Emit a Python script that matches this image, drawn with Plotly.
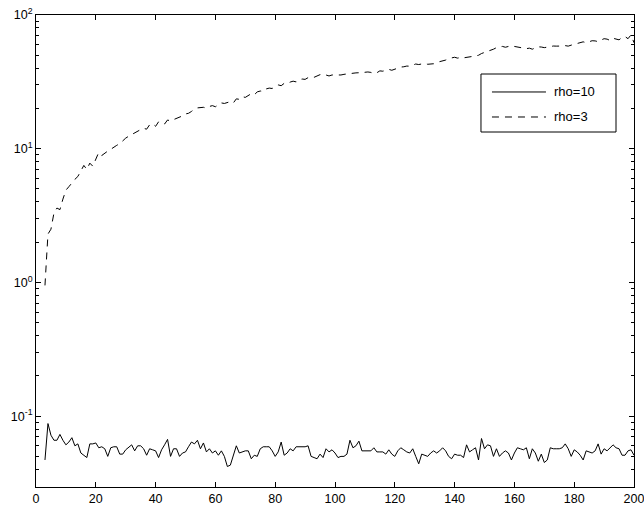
import plotly.graph_objects as go

x_vals = list(range(3, 201))

rho10 = [
    0.047, 0.088, 0.072, 0.066, 0.066, 0.073, 0.066, 0.061, 0.064, 0.069,
    0.060, 0.062, 0.053, 0.051, 0.049, 0.062, 0.062, 0.063, 0.058, 0.059,
    0.057, 0.050, 0.058, 0.059, 0.059, 0.052, 0.052, 0.056, 0.058, 0.061,
    0.055, 0.060, 0.060, 0.057, 0.051, 0.057, 0.056, 0.055, 0.049, 0.056,
    0.061, 0.067, 0.050, 0.057, 0.057, 0.050, 0.053, 0.054, 0.059, 0.064,
    0.062, 0.066, 0.057, 0.063, 0.054, 0.057, 0.053, 0.055, 0.051, 0.055,
    0.050, 0.042, 0.043, 0.051, 0.060, 0.053, 0.054, 0.055, 0.055, 0.048,
    0.051, 0.050, 0.057, 0.059, 0.059, 0.059, 0.055, 0.050, 0.054, 0.064,
    0.051, 0.053, 0.057, 0.055, 0.059, 0.059, 0.059, 0.059, 0.060, 0.050,
    0.049, 0.048, 0.052, 0.049, 0.057, 0.054, 0.056, 0.053, 0.049, 0.050,
    0.050, 0.052, 0.066, 0.058, 0.060, 0.065, 0.055, 0.055, 0.055, 0.055,
    0.058, 0.054, 0.054, 0.054, 0.052, 0.056, 0.052, 0.050, 0.055, 0.058,
    0.056, 0.054, 0.053, 0.057, 0.050, 0.044, 0.052, 0.051, 0.050, 0.053,
    0.055, 0.053, 0.055, 0.058, 0.055, 0.050, 0.048, 0.052, 0.051, 0.051,
    0.049, 0.061, 0.054, 0.056, 0.058, 0.047, 0.068, 0.057, 0.061, 0.060,
    0.050, 0.057, 0.050, 0.053, 0.055, 0.053, 0.047, 0.053, 0.058, 0.057,
    0.056, 0.058, 0.048, 0.057, 0.053, 0.046, 0.052, 0.045, 0.047, 0.058,
    0.057, 0.057, 0.057, 0.058, 0.062, 0.057, 0.050, 0.056, 0.054, 0.051,
    0.047, 0.055, 0.054, 0.053, 0.055, 0.062, 0.052, 0.057, 0.055, 0.058,
    0.061, 0.058, 0.057, 0.051, 0.051, 0.055, 0.056, 0.051,
]

rho3 = [
    0.95, 2.3, 2.5, 3.3, 3.6, 3.5, 4.2, 4.9, 5.2, 5.6,
    5.9, 6.2, 6.9, 7.5, 7.0, 7.8, 7.4, 8.3, 9.4, 8.9,
    9.3, 9.6, 9.9, 10.3, 10.6, 10.9, 11.5, 12.0, 12.4, 12.8,
    13.2, 13.6, 13.9, 14.2, 14.0, 15.1, 15.4, 14.7, 15.9, 15.8,
    15.3, 16.4, 16.1, 16.5, 16.8, 17.2, 17.6, 18.2, 18.4, 19.0,
    19.8, 20.2, 20.3, 20.4, 20.1, 20.7, 21.0, 20.6, 21.3, 22.0,
    21.8, 22.3, 22.5, 22.0, 23.6, 23.4, 24.5, 24.2, 25.0, 25.8,
    25.3, 26.6, 27.0, 26.8, 28.0, 28.4, 28.2, 29.5, 30.0, 29.6,
    30.8, 30.6, 31.5, 32.0, 31.6, 32.8, 33.2, 33.0, 34.0, 34.5,
    34.2, 35.2, 35.8, 36.2, 35.4, 35.0, 35.6, 35.5, 35.8, 35.6,
    36.0, 36.3, 36.5, 36.7, 36.9, 37.0, 36.8, 37.3, 37.5, 37.2,
    36.5, 37.0, 38.2, 38.0, 38.7, 39.2, 38.6, 39.4, 40.0, 40.8,
    41.0, 41.5, 41.4, 42.2, 43.0, 42.6, 43.0, 43.5, 42.8, 43.0,
    43.2, 44.2, 44.8, 45.0, 46.0, 47.2, 48.0, 48.3, 47.6, 48.1,
    47.8, 48.0, 48.5, 49.0, 49.4, 50.0, 51.5, 52.5, 53.6, 54.0,
    55.5, 57.0, 57.6, 58.2, 57.4, 58.5, 59.0, 58.2, 57.6, 57.6,
    57.0, 56.0, 56.5, 55.5, 56.8, 57.8, 57.6, 57.0, 57.5, 58.2,
    58.6, 58.5, 58.2, 58.6, 59.0, 58.5, 59.5, 60.5, 61.5, 62.5,
    63.0, 62.0, 63.5, 64.2, 64.0, 63.2, 65.0, 66.5, 66.0, 64.5,
    67.0, 66.0, 65.2, 68.0, 69.0, 66.5, 71.0, 62.0,
]

series_names = ["rho=10", "rho=3"]
x_ticks = [0, 20, 40, 60, 80, 100, 120, 140, 160, 180, 200]
y_ticks = [0.1, 1, 10, 100]
y_ticktext = ["10<sup>-1</sup>", "10<sup>0</sup>", "10<sup>1</sup>", "10<sup>2</sup>"]
y_minor = [m * 10.0 ** e for e in (-2, -1, 0, 1) for m in range(2, 10)]

DASH = "7px,6px"
FONT_FAMILY = "Liberation Sans, Arial, Helvetica, sans-serif"
font = dict(family=FONT_FAMILY, size=13, color="black")
tick_font = dict(family=FONT_FAMILY, size=12.5, color="black")

fig = go.Figure()
fig.add_trace(go.Scatter(x=x_vals, y=rho10, mode="lines", name=series_names[0],
                         line=dict(color="black", width=1)))
fig.add_trace(go.Scatter(x=x_vals, y=rho3, mode="lines", name=series_names[1],
                         line=dict(color="black", width=1, dash=DASH)))

# Legend box drawn in paper coordinates (MATLAB-style legend)
lx0, lx1, ly0, ly1 = 0.7441, 0.9699, 0.7521, 0.875
sx0, sx1 = 0.7625, 0.8528
tx = 0.8629
rows_y = [0.8369, 0.7839]
shapes = [dict(type="rect", xref="paper", yref="paper", x0=lx0, x1=lx1, y0=ly0, y1=ly1,
               line=dict(color="black", width=1), fillcolor="white", layer="above")]
annotations = []
for name, ry, dash in zip(series_names, rows_y, ["solid", DASH]):
    shapes.append(dict(type="line", xref="paper", yref="paper", x0=sx0, x1=sx1, y0=ry, y1=ry,
                       line=dict(color="black", width=1, dash=dash), layer="above"))
    annotations.append(dict(xref="paper", yref="paper", x=tx, y=ry, text=name,
                            showarrow=False, xanchor="left", yanchor="middle", font=font))

fig.update_layout(
    template="none",
    width=644, height=506,
    margin=dict(l=36, r=10, t=15, b=19),
    paper_bgcolor="white", plot_bgcolor="white",
    font=font,
    showlegend=False,
    shapes=shapes,
    annotations=annotations,
)
fig.update_xaxes(
    range=[0, 200], tickvals=x_ticks, ticks="inside", ticklen=5,
    showline=True, linecolor="black", linewidth=1, mirror="ticks",
    showgrid=False, zeroline=False, tickfont=tick_font, automargin=False,
    tickcolor="black", ticklabeloverflow="allow",
)
fig.update_yaxes(
    type="log", range=[-1.53, 2], tickvals=y_ticks, ticktext=y_ticktext,
    ticks="inside", ticklen=5, tickcolor="black",
    showline=True, linecolor="black", linewidth=1, mirror="ticks",
    showgrid=False, zeroline=False, tickfont=tick_font, automargin=False,
    ticklabeloverflow="allow",
    minor=dict(tickvals=y_minor, ticks="inside", ticklen=3,
               tickcolor="black", showgrid=False),
)

fig.write_html(
    "out.html",
    config={"displayModeBar": False},
    post_script="document.body.style.margin='0';document.body.style.overflow='hidden';",
)
